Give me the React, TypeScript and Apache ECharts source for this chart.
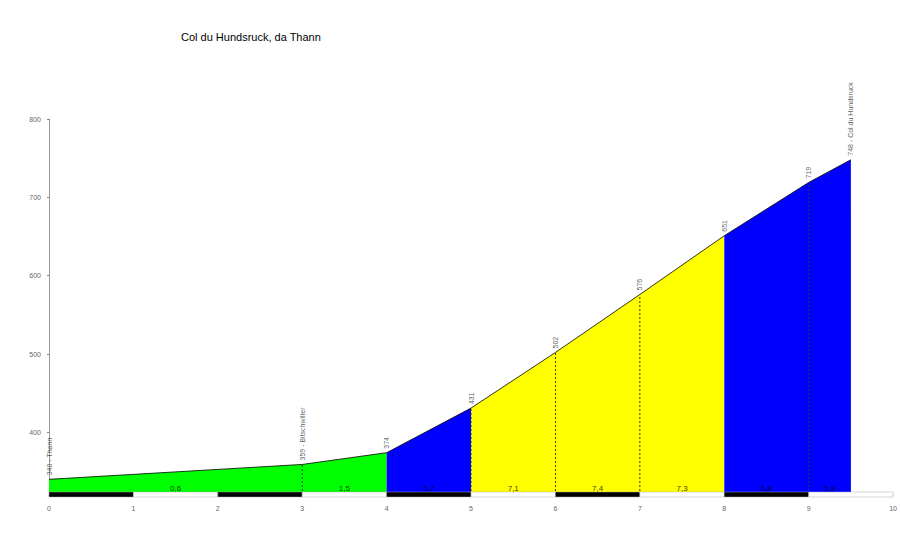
import React, { useEffect, useRef } from "react";
import * as echarts from "echarts";

const TITLE = "Col du Hundsruck, da Thann";
const KM = [0, 3, 4, 5, 6, 7, 8, 9, 9.5];
const ALT = [340, 359, 374, 431, 502, 576, 651, 719, 748];
const ALT_LABELS = ["340 - Thann", "359 - Bitschwiller", "374", "431", "502", "576", "651", "719", "748 - Col du Hundsruck"];
// colored sections: [startIndex, endIndex, color]
const SECTIONS: [number, number, string][] = [
  [0, 2, "#00ff00"],
  [2, 3, "#0000ff"],
  [3, 6, "#ffff00"],
  [6, 8, "#0000ff"],
];
const DOTTED_KM_IDX = [1, 3, 4, 5, 7];
const GRADE_MID = [1.5, 3.5, 4.5, 5.5, 6.5, 7.5, 8.5, 9.25];
const GRADE_LABELS = ["0,6", "1,5", "5,7", "7,1", "7,4", "7,3", "6,8", "5,8"];
const STRIP = [
  [0, 1, 1], [1, 2, 0], [2, 3, 1], [3, 4, 0], [4, 5, 1],
  [5, 6, 0], [6, 7, 1], [7, 8, 0], [8, 9, 1], [9, 10, 0],
];
const Y_TICKS = [400, 500, 600, 700, 800];
const Y_MIN = 320;
const Y_MAX = 800;

export default function App() {
  const ref = useRef<HTMLDivElement>(null);
  useEffect(() => {
    if (!ref.current) return;
    const chart = echarts.init(ref.current, null, { renderer: "svg" });
    const series: any[] = [];
    SECTIONS.forEach(([a, b, color]) => {
      const data = [];
      for (let i = a; i <= b; i++) data.push([KM[i], ALT[i]]);
      series.push({
        type: "line",
        data,
        symbol: "none",
        lineStyle: { color: "#000", width: 0.8 },
        areaStyle: { color, opacity: 1, origin: "start" },
        z: 2,
      });
    });
    DOTTED_KM_IDX.forEach((i) => {
      series.push({
        type: "line",
        data: [[KM[i], Y_MIN], [KM[i], ALT[i]]],
        symbol: "none",
        lineStyle: { color: "#333", width: 1, type: [2, 2] },
        z: 3,
      });
    });
    series.push({
      type: "custom",
      data: STRIP,
      z: 4,
      renderItem: (params: any, api: any) => {
        const p0 = api.coord([api.value(0), Y_MIN]);
        const p1 = api.coord([api.value(1), Y_MIN]);
        return {
          type: "rect",
          shape: { x: p0[0], y: p0[1] - 3, width: p1[0] - p0[0], height: 5 },
          style: { fill: api.value(2) ? "#000" : "#fff", stroke: "#aaa", lineWidth: 0.5 },
        };
      },
    });
    series.push({
      type: "scatter",
      data: GRADE_MID.map((x, i) => ({ value: [x, Y_MIN], name: GRADE_LABELS[i] })),
      symbolSize: 0,
      z: 5,
      label: {
        show: true,
        position: "top",
        distance: 3,
        formatter: (p: any) => p.name,
        fontSize: 8,
        color: "#000",
        fontFamily: "Liberation Sans, Arial, sans-serif",
      },
    });
    series.push({
      type: "scatter",
      data: KM.map((x, i) => ({ value: [x, ALT[i]], name: ALT_LABELS[i] })),
      symbolSize: 0,
      z: 5,
      label: {
        show: true,
        position: "top",
        distance: 4,
        rotate: 90,
        align: "left",
        verticalAlign: "middle",
        formatter: (p: any) => p.name,
        fontSize: 7,
        color: "#333",
        fontFamily: "Liberation Sans, Arial, sans-serif",
      },
    });
    chart.setOption({
      animation: false,
      backgroundColor: "#fff",
      title: {
        text: TITLE,
        left: 176,
        top: 26,
        textStyle: { fontSize: 11, fontWeight: "normal", color: "#000", fontFamily: "Liberation Sans, Arial, sans-serif" },
      },
      grid: { left: 49, right: 6, top: 119, bottom: 38, containLabel: false },
      xAxis: {
        type: "value",
        min: 0,
        max: 10,
        interval: 1,
        splitLine: { show: false },
        axisLine: { lineStyle: { color: "#999", width: 1 } },
        axisTick: { show: false },
        axisLabel: { fontSize: 7, color: "#666", margin: 10, fontFamily: "Liberation Sans, Arial, sans-serif" },
      },
      yAxis: {
        type: "value",
        min: Y_MIN,
        max: Y_MAX,
        splitLine: { show: false },
        axisLine: { show: true, lineStyle: { color: "#999", width: 1 } },
        axisTick: { show: true, length: 2, lineStyle: { color: "#c66" }, customValues: Y_TICKS },
        axisLabel: { fontSize: 7, color: "#666", margin: 8, customValues: Y_TICKS, fontFamily: "Liberation Sans, Arial, sans-serif" },
      },
      series,
    });
    return () => chart.dispose();
  }, []);
  return <div ref={ref} style={{ position: "absolute", left: 0, top: 0, width: 900, height: 533 }} />;
}
